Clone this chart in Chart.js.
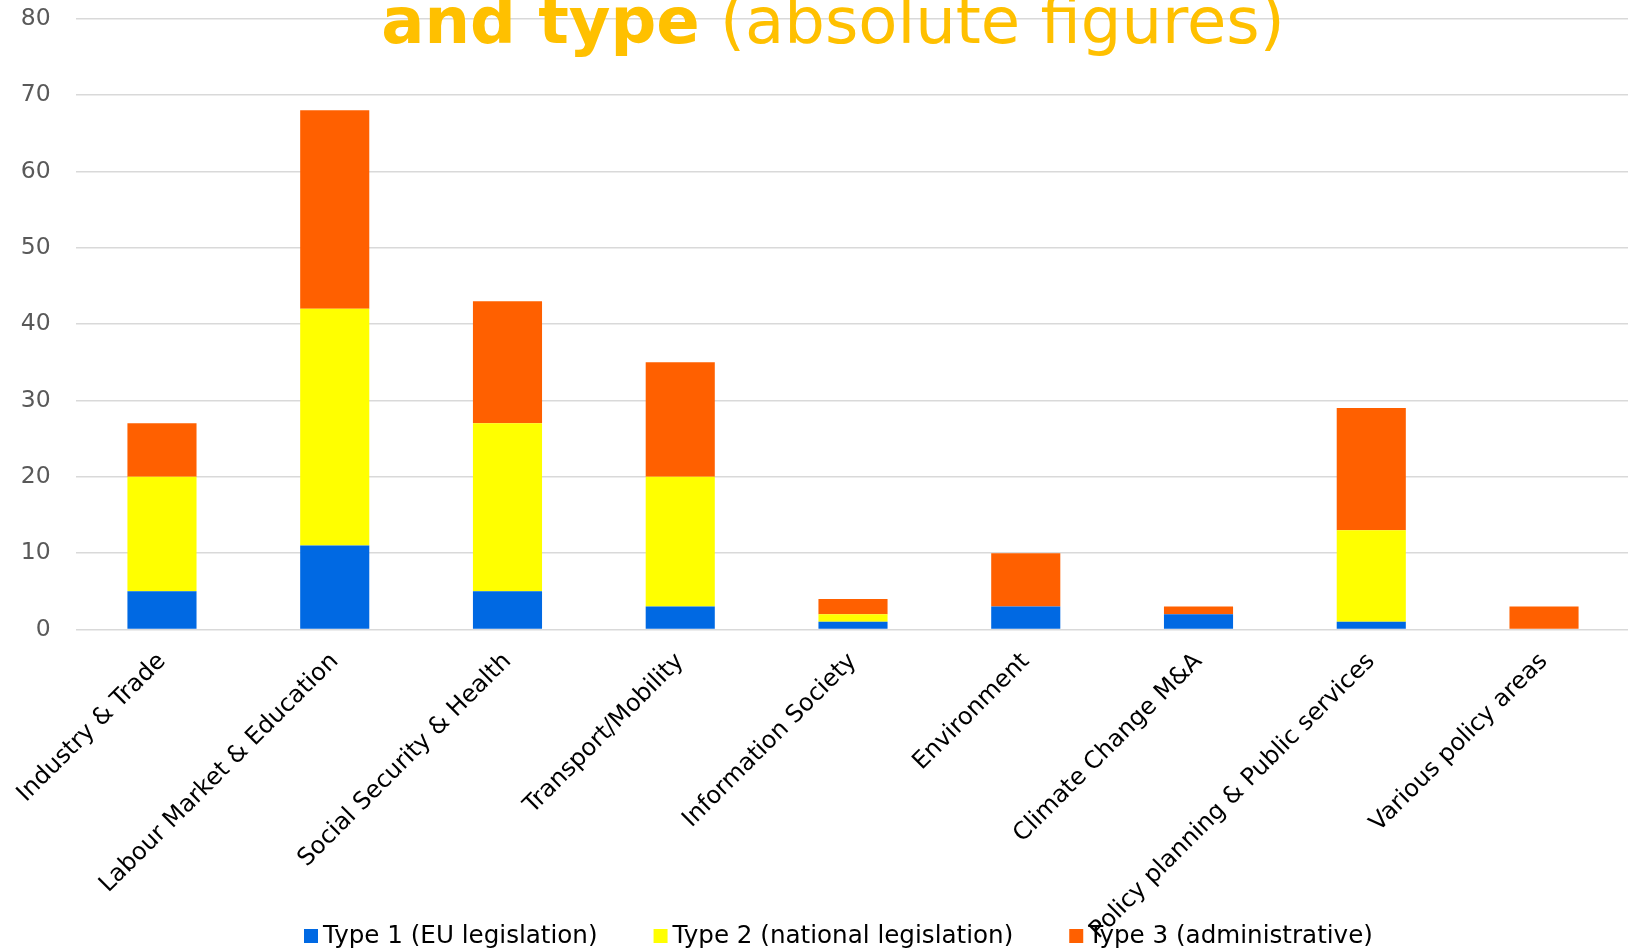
<!DOCTYPE html>
<html>
<head>
<meta charset="utf-8">
<title>Barriers by policy area and type</title>
<script src="https://cdn.jsdelivr.net/npm/chart.js@4.4.1/dist/chart.umd.min.js"></script>
<style>
    html, body {
        margin: 0;
        padding: 0;
        background: #ffffff;
        overflow: hidden;
    }
    .chart-wrap {
        position: relative;
        width: 1632px;
        height: 951px;
    }
</style>
</head>
<body>
<div class="chart-wrap">
    <canvas id="barriersChart"></canvas>
</div>

<script>
// Data
const categories = [
    'Industry & Trade',
    'Labour Market & Education',
    'Social Security & Health',
    'Transport/Mobility',
    'Information Society',
    'Environment',
    'Climate Change M&A',
    'Policy planning & Public services',
    'Various policy areas'
];
const type1Values = [5, 11, 5, 3, 1, 3, 2, 1, 0];
const type2Values = [15, 31, 22, 17, 1, 0, 0, 12, 0];
const type3Values = [7, 26, 16, 15, 2, 7, 1, 16, 3];
const yTicks = [0, 10, 20, 30, 40, 50, 60, 70, 80];

const seriesNames = ['Type 1 (EU legislation)', 'Type 2 (national legislation)', 'Type 3 (administrative)'];
const seriesColors = ['#0069E3', '#FFFF00', '#FF6000'];

const FONT = '"DejaVu Sans", Verdana, sans-serif';

// Title: only the second line shows, the first one sits above the picture
const titlePlugin = {
    id: 'cutTitle',
    afterDraw(chart) {
        const ctx = chart.ctx;
        ctx.save();
        ctx.fillStyle = '#FFC000';
        ctx.textBaseline = 'alphabetic';
        ctx.textAlign = 'left';
        const boldPart = 'and type';
        const normalPart = ' (absolute figures)';
        ctx.font = 'bold 64px ' + FONT;
        const w1 = ctx.measureText(boldPart).width;
        ctx.font = '64px ' + FONT;
        const w2 = ctx.measureText(normalPart).width;
        let x = 833 - (w1 + w2) / 2;
        ctx.font = 'bold 64px ' + FONT;
        ctx.fillText(boldPart, x, 43);
        ctx.font = '64px ' + FONT;
        ctx.fillText(normalPart, x + w1, 43);
        ctx.restore();
    }
};

// Legend drawn by hand so the axis labels can run into it like in the original
const legendPlugin = {
    id: 'bottomLegend',
    afterDraw(chart) {
        const ctx = chart.ctx;
        ctx.save();
        ctx.font = '24.6px ' + FONT;
        ctx.textBaseline = 'alphabetic';
        ctx.textAlign = 'left';
        let x = 304;
        const baseY = 943;
        chart.data.datasets.forEach(ds => {
            ctx.fillStyle = ds.backgroundColor;
            ctx.fillRect(x, baseY - 14, 14, 14);
            ctx.fillStyle = '#000000';
            ctx.fillText(ds.label, x + 19, baseY);
            x += 19 + ctx.measureText(ds.label).width + 56;
        });
        ctx.restore();
    }
};

document.addEventListener('DOMContentLoaded', function() {
    if (typeof Chart === 'undefined') {
        console.error('Chart.js is not loaded!');
        return;
    }

    const canvas = document.getElementById('barriersChart');
    const ctx = canvas.getContext('2d');

    const valueSets = [type1Values, type2Values, type3Values];

    canvas.chart = new Chart(ctx, {
        type: 'bar',
        data: {
            labels: categories,
            datasets: valueSets.map((vals, i) => ({
                label: seriesNames[i],
                data: vals,
                backgroundColor: seriesColors[i],
                borderWidth: 0,
                categoryPercentage: 1,
                barPercentage: 0.4
            }))
        },
        options: {
            responsive: true,
            maintainAspectRatio: false,
            animation: false,
            layout: {
                padding: { top: 18.7, right: 1.6, bottom: 0, left: 0 }
            },
            scales: {
                x: {
                    stacked: true,
                    grid: { display: false },
                    border: { display: false },
                    ticks: {
                        autoSkip: false,
                        maxRotation: 45,
                        minRotation: 45,
                        padding: 10,
                        color: '#000000',
                        font: { family: FONT, size: 24 }
                    },
                    afterFit: function(scale) {
                        scale.height = 321.5;
                        scale.paddingLeft = 0;
                        scale.paddingRight = 0;
                    }
                },
                y: {
                    stacked: true,
                    min: 0,
                    max: 80,
                    afterBuildTicks: function(scale) {
                        scale.ticks = yTicks.map(v => ({ value: v }));
                    },
                    grid: {
                        color: '#D9D9D9',
                        lineWidth: 1.6,
                        drawTicks: false
                    },
                    border: { display: false },
                    ticks: {
                        padding: 25,
                        color: '#595959',
                        font: { family: FONT, size: 23.5 }
                    },
                    afterFit: function(scale) {
                        scale.width = 75.6;
                        scale.paddingTop = 0;
                        scale.paddingBottom = 0;
                    }
                }
            },
            plugins: {
                legend: { display: false },
                title: { display: false },
                tooltip: { enabled: false }
            }
        },
        plugins: [titlePlugin, legendPlugin]
    });
});
</script>
</body>
</html>
